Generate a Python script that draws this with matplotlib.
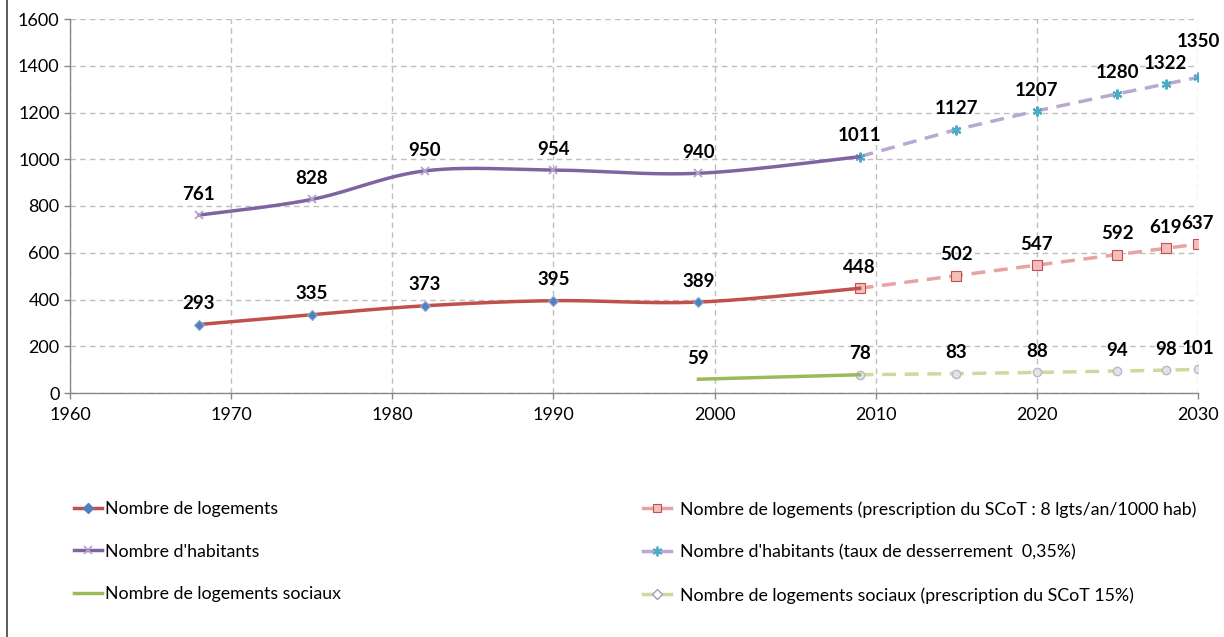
import numpy as np
import matplotlib
matplotlib.use("Agg")
import matplotlib.pyplot as plt
from matplotlib.lines import Line2D

plt.rcParams['font.family'] = ['Lato', 'DejaVu Sans']

# ---- data ----
years_hist = [1968, 1975, 1982, 1990, 1999, 2009]
logements_hist = [293, 335, 373, 395, 389, 448]
habitants_hist = [761, 828, 950, 954, 940, 1011]
years_soc_hist = [1999, 2009]
sociaux_hist = [59, 78]

years_proj = [2009, 2015, 2020, 2025, 2028, 2030]
logements_proj = [448, 502, 547, 592, 619, 637]
habitants_proj = [1011, 1127, 1207, 1280, 1322, 1350]
sociaux_proj = [78, 83, 88, 94, 98, 101]

labels = [
    "Nombre de logements",
    "Nombre d'habitants",
    "Nombre de logements sociaux",
    "Nombre de logements (prescription du SCoT : 8 lgts/an/1000 hab)",
    "Nombre d'habitants (taux de desserrement  0,35%)",
    "Nombre de logements sociaux (prescription du SCoT 15%)",
]

x_ticks = [1960, 1970, 1980, 1990, 2000, 2010, 2020, 2030]
y_ticks = [0, 200, 400, 600, 800, 1000, 1200, 1400, 1600]


def smooth(xs, ys, n=40):
    """Excel-like smoothed line (Catmull-Rom Bezier)."""
    P = np.column_stack([xs, ys]).astype(float)
    out = [P[0]]
    for i in range(len(P) - 1):
        p0 = P[i - 1] if i > 0 else P[i]
        p1 = P[i]
        p2 = P[i + 1]
        p3 = P[i + 2] if i + 2 < len(P) else P[i + 1]
        c1 = p1 + (p2 - p0) / 6.0
        c2 = p2 - (p3 - p1) / 6.0
        t = np.linspace(0, 1, n)[1:, None]
        seg = ((1 - t) ** 3) * p1 + 3 * ((1 - t) ** 2) * t * c1 + 3 * (1 - t) * t ** 2 * c2 + t ** 3 * p2
        out.extend(seg)
    out = np.array(out)
    return out[:, 0], out[:, 1]


fig = plt.figure(figsize=(12.24, 6.37), dpi=100)
ax = fig.add_axes([70 / 1224, 1 - 393 / 637, (1198 - 70) / 1224, (393 - 19) / 637])

RED = '#C0504D'
PURPLE = '#8064A2'
GREEN = '#9BBB59'
PINK = '#E6A3A1'
LAV = '#B9A9D1'
LGREEN = '#C9DC9E'

# projections (dashed)
ax.plot(years_proj, logements_proj, color=PINK, lw=2.5, ls=(0, (4, 2.5)),
        marker='s', ms=6.5, mfc='#F4BDBB', mec='#C0504D', mew=0.8, zorder=3)
ax.plot(years_proj, habitants_proj, color=LAV, lw=2.5, ls=(0, (4, 2.5)),
        marker=(6, 2, 0), ms=7, mec='#4BACC6', mew=1.5, zorder=3)
ax.plot(years_proj, sociaux_proj, color=LGREEN, lw=2.5, ls=(0, (4, 2.5)),
        marker='o', ms=6, mfc='#E4E4E4', mec='#B8B8CC', mew=1.0, zorder=3)

# historic (smoothed solid)
sx, sy = smooth(years_hist, logements_hist)
ax.plot(sx, sy, color=RED, lw=2.5, zorder=4)
ax.plot(years_hist[:-1], logements_hist[:-1], ls='none', marker='D', ms=5,
        mfc='#4F81BD', mec='#8EA9CF', mew=0.8, zorder=5)
sx, sy = smooth(years_hist, habitants_hist)
ax.plot(sx, sy, color=PURPLE, lw=2.5, zorder=4)
ax.plot(years_hist[:-1], habitants_hist[:-1], ls='none', marker='x', ms=6,
        mec='#B3A2C7', mew=1.3, zorder=5)
ax.plot(years_soc_hist, sociaux_hist, color=GREEN, lw=2.5, zorder=4)

# data labels
lab_kw = dict(textcoords='offset points', ha='center', va='center',
              fontsize=13.5, fontweight='bold', color='black', zorder=6)
for xs, ys in [(years_hist, logements_hist), (years_hist, habitants_hist),
               (years_soc_hist, sociaux_hist)]:
    for x, y in zip(xs, ys):
        ax.annotate(str(y), (x, y), xytext=(0, 15), **lab_kw)
for xs, ys in [(years_proj, logements_proj), (years_proj, habitants_proj),
               (years_proj, sociaux_proj)]:
    for x, y in list(zip(xs, ys))[1:]:
        off = 26 if y == habitants_proj[-1] else 15
        ax.annotate(str(y), (x, y), xytext=(0, off), **lab_kw)

ax.set_xlim(1960, 2030)
ax.set_ylim(0, 1600)
ax.set_xticks(x_ticks)
ax.set_yticks(y_ticks)
ax.tick_params(labelsize=13, colors='#888888', labelcolor='black', length=4, width=1)
ax.grid(True, color='#BFBFBF', ls=(0, (4, 3)), lw=1)
ax.set_axisbelow(True)
for s in ['top', 'right']:
    ax.spines[s].set_visible(False)
for s in ['left', 'bottom']:
    ax.spines[s].set_color('#888888')
    ax.spines[s].set_linewidth(1)
ax.tick_params(axis='x', pad=6)

# legend handles
h_hist = [
    Line2D([], [], color=RED, lw=2.5, marker='D', ms=5, mfc='#4F81BD', mec='#4F81BD'),
    Line2D([], [], color=PURPLE, lw=2.5, marker='x', ms=6, mec='#B3A2C7', mew=1.2),
    Line2D([], [], color=GREEN, lw=2.5),
]
h_proj = [
    Line2D([], [], color=PINK, lw=2.5, marker='s', ms=6, mfc='#F4BDBB', mec=RED, mew=0.8),
    Line2D([], [], color=LAV, lw=2.5, marker=(6, 2, 0), ms=7, mec='#4BACC6', mew=1.3),
    Line2D([], [], color=LGREEN, lw=2.5, marker='D', ms=5, mfc='white', mec='#A29BC9', mew=1.0),
]
leg_kw = dict(loc='upper left', frameon=False, fontsize=12.8, handlelength=1.6,
              labelspacing=1.5, borderaxespad=0, borderpad=0)
l1 = fig.legend(h_hist, labels[:3], bbox_to_anchor=(74 / 1224, 1 - 501 / 637),
                handletextpad=0.15, **leg_kw)
l2 = fig.legend(h_proj, labels[3:], bbox_to_anchor=(643 / 1224, 1 - 501 / 637),
                handletextpad=0.5, **leg_kw)

# chart area border (left edge)
fig.add_artist(Line2D([7 / 1224, 7 / 1224], [0, 1], color='#404040', lw=1.2,
                      transform=fig.transFigure))

fig.savefig('out.png', dpi=100)
